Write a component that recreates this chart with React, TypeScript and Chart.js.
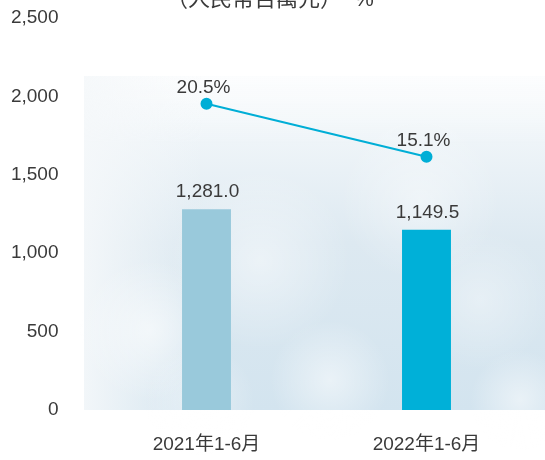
import React, { useEffect, useRef } from "react";
import { Chart, registerables } from "chart.js";

Chart.register(...registerables);

const categories = ["2021年1-6月", "2022年1-6月"];
const barValues = [1281.0, 1149.5];
const barColors = ["#99c9db", "#00b0d8"];
const pctValues = [20.5, 15.1];
const barLabels = ["1,281.0", "1,149.5"];
const pctLabels = ["20.5%", "15.1%"];
const unitTitle = "（人民幣百萬元）  %";

const FONT = '"Liberation Sans", "Noto Sans CJK TC", sans-serif';
const TEXT = "#3a3a3a";

const bgPlugin = {
  id: "cloudBg",
  beforeDraw(chart: any) {
    const { ctx, chartArea } = chart;
    const x0 = 84;
    const x1 = chart.width;
    const y0 = 76;
    const y1 = chartArea.bottom;
    ctx.save();
    const g = ctx.createLinearGradient(0, y0, 0, y1);
    g.addColorStop(0, "rgba(250,252,253,0.6)");
    g.addColorStop(0.2, "#eef4f8");
    g.addColorStop(0.5, "#dde9f1");
    g.addColorStop(1, "#d3e4ef");
    ctx.fillStyle = g;
    ctx.fillRect(x0, y0, x1 - x0, y1 - y0);
    const gl = ctx.createLinearGradient(x0, 0, x0 + 120, 0);
    gl.addColorStop(0, "rgba(245,248,250,0.9)");
    gl.addColorStop(1, "rgba(245,248,250,0)");
    ctx.fillStyle = gl;
    ctx.fillRect(x0, y0, 120, y1 - y0);
    const puffs = [
      [150, 330, 70, 0.55],
      [260, 260, 90, 0.45],
      [330, 380, 60, 0.5],
      [480, 300, 70, 0.35],
      [520, 400, 50, 0.5],
      [200, 400, 55, 0.4],
      [420, 200, 80, 0.4],
    ];
    puffs.forEach(([cx, cy, r, a]) => {
      const rg = ctx.createRadialGradient(cx, cy, 0, cx, cy, r);
      rg.addColorStop(0, `rgba(255,255,255,${a})`);
      rg.addColorStop(1, "rgba(255,255,255,0)");
      ctx.fillStyle = rg;
      ctx.fillRect(cx - r, cy - r, r * 2, r * 2);
    });
    ctx.restore();
  },
};

const labelPlugin = {
  id: "valueLabels",
  afterDatasetsDraw(chart: any) {
    const { ctx } = chart;
    ctx.save();
    ctx.font = `19px ${FONT}`;
    ctx.fillStyle = TEXT;
    ctx.textAlign = "center";
    ctx.textBaseline = "alphabetic";
    const barMeta = chart.getDatasetMeta(0);
    barMeta.data.forEach((el: any, i: number) => {
      ctx.fillText(barLabels[i], el.x + 1, el.y - 12);
    });
    const lineMeta = chart.getDatasetMeta(1);
    lineMeta.data.forEach((el: any, i: number) => {
      ctx.fillText(pctLabels[i], el.x - 3, el.y - 11);
    });
    ctx.font = `22px ${FONT}`;
    ctx.fillText(unitTitle, 270, 6);
    ctx.restore();
  },
};

export default function App() {
  const ref = useRef<HTMLCanvasElement | null>(null);

  useEffect(() => {
    document.body.style.margin = "0";
    if (!ref.current) return;
    const chart = new Chart(ref.current, {
      type: "bar",
      data: {
        labels: categories,
        datasets: [
          {
            type: "bar",
            data: barValues,
            backgroundColor: barColors,
            barPercentage: 0.445,
            categoryPercentage: 0.5,
            yAxisID: "y",
            order: 2,
          },
          {
            type: "line",
            data: pctValues,
            borderColor: "#00aed6",
            backgroundColor: "#00aed6",
            borderWidth: 2,
            pointRadius: 5,
            pointHoverRadius: 5,
            yAxisID: "y1",
            order: 1,
          } as any,
        ],
      },
      options: {
        responsive: false,
        animation: false,
        layout: { padding: { top: 18, right: 8.5, left: 0, bottom: 0 } },
        plugins: {
          legend: { display: false },
          tooltip: { enabled: false },
          title: { display: false },
        },
        scales: {
          x: {
            grid: { display: false, drawTicks: false },
            border: { display: false },
            ticks: {
              color: TEXT,
              font: { family: FONT, size: 19 },
              padding: 23,
            },
            afterFit: (s: any) => {
              s.height = 50;
            },
          },
          y: {
            min: 0,
            max: 2500,
            grid: { display: false, drawTicks: false },
            border: { display: false },
            ticks: {
              stepSize: 500,
              color: TEXT,
              font: { family: FONT, size: 19 },
              padding: 38,
              callback: (v: any) => Number(v).toLocaleString("en-US"),
            },
            afterFit: (s: any) => {
              s.width = 96.5;
              s.paddingTop = 10;
              s.paddingBottom = 10;
            },
          },
          y1: {
            display: false,
            min: -10.75,
            max: 29.25,
            position: "right",
          },
        },
      },
      plugins: [bgPlugin, labelPlugin],
    });
    return () => chart.destroy();
  }, []);

  return <canvas ref={ref} width={545} height={460} style={{ display: "block" }} />;
}
